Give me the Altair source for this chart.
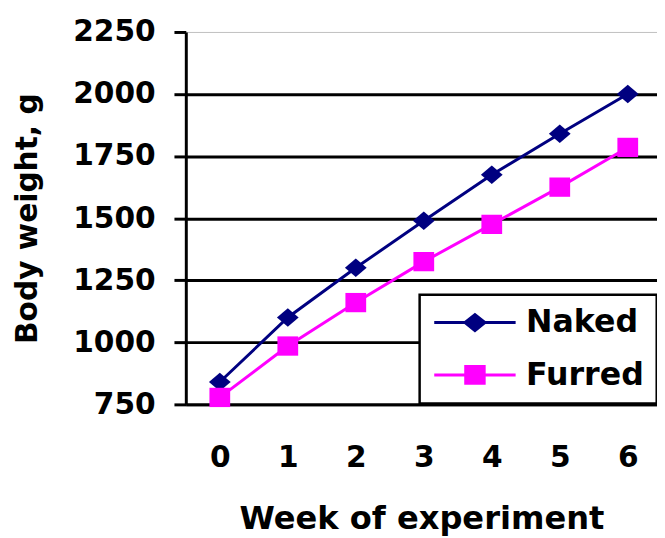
import altair as alt
import pandas as pd

weeks = [0, 1, 2, 3, 4, 5, 6]
naked = [840, 1100, 1300, 1490, 1675, 1840, 2000]
furred = [778, 985, 1160, 1325, 1475, 1625, 1785]
series_names = ["Naked", "Furred"]
series_colors = ["#000080", "#FF00FF"]
y_ticks = [750, 1000, 1250, 1500, 1750, 2000, 2250]

df = pd.DataFrame({
    "week": weeks + weeks,
    "weight": naked + furred,
    "series": ["Naked"] * len(weeks) + ["Furred"] * len(weeks),
})

FONT = "DejaVu Sans"

diamond_path = "M -1 0 L 0 -0.85 L 1 0 L 0 0.85 Z"
square_path = "M -1 -0.93 L 1 -0.93 L 1 0.93 L -1 0.93 Z"
# legend symbols: a line segment with the marker in its middle
legend_naked = ("M -0.865 -0.097 L 4.45 -0.097 L 4.45 0.097 L -0.865 0.097 Z "
                "M 0.988 0 L 1.794 -0.645 L 2.6 0 L 1.794 0.645 Z")
legend_furred = ("M -0.865 -0.097 L 4.45 -0.097 L 4.45 0.097 L -0.865 0.097 Z "
                 "M 1.094 -0.645 L 2.494 -0.645 L 2.494 0.645 L 1.094 0.645 Z")

x_enc = alt.X(
    "week:Q",
    scale=alt.Scale(domain=[-0.5, 6.43], nice=False, zero=False),
    axis=alt.Axis(
        values=weeks, format="d", title="Week of experiment", grid=False,
        ticks=False, labelPadding=39, titlePadding=31, labelAngle=0,
        domainColor="black", domainWidth=3, labelFontSize=30, titleFontSize=32.5,
    ),
)
y_enc = alt.Y(
    "weight:Q",
    scale=alt.Scale(domain=[750, 2250], nice=False, zero=False),
    axis=alt.Axis(
        values=y_ticks, format="d", title="Body weight, g", grid=True,
        gridColor={"condition": {"test": "datum.value == 2250", "value": "#c0c0c0"}, "value": "black"},
        gridWidth={"condition": {"test": "datum.value == 2250", "value": 1}, "value": 3},
        tickSize=12, tickWidth=3, tickColor="black", labelPadding=19,
        domainColor="black", domainWidth=3, labelFontSize=30, titleFontSize=30,
        titlePadding=31,
    ),
)

base = alt.Chart(df)

layers = []
for name, color, shp, sz in [("Naked", series_colors[0], diamond_path, 484),
                             ("Furred", series_colors[1], square_path, 441)]:
    sub = base.transform_filter(alt.datum.series == name)
    layers.append(sub.mark_line(color=color, strokeWidth=3).encode(x=x_enc, y=y_enc))
    layers.append(sub.mark_point(shape=shp, filled=True, size=sz, color=color, opacity=1)
                  .encode(x=x_enc, y=y_enc))

legend_layer = base.transform_filter("false").mark_point(filled=True, opacity=1, size=961).encode(
    x=x_enc, y=y_enc,
    color=alt.Color("series:N", scale=alt.Scale(domain=series_names, range=series_colors),
                    legend=alt.Legend(
                        title=None, orient="none", legendX=236.7, legendY=266,
                        padding=12.2, rowPadding=21, labelOffset=63.5, symbolSize=961,
                        labelFontSize=32, labelFont=FONT, labelFontWeight="bold",
                        labelColor="black", strokeColor="black", fillColor="white",
                        symbolStrokeWidth=0,
                    )),
    shape=alt.Shape("series:N", scale=alt.Scale(domain=series_names,
                                                range=[legend_naked, legend_furred])),
)
layers.append(legend_layer)

chart = alt.layer(*layers).properties(
    width=477, height=377,
    padding={"left": 180, "top": 21, "right": 0, "bottom": 132},
    autosize=alt.AutoSizeParams(type="none"),
).configure_view(stroke=None).configure_axis(
    labelFont=FONT, titleFont=FONT, labelFontWeight="bold", titleFontWeight="bold",
    labelColor="black", titleColor="black",
).configure_legend(strokeWidth=2.5)

chart.save("out.html", embed_options={"renderer": "svg", "actions": False})
